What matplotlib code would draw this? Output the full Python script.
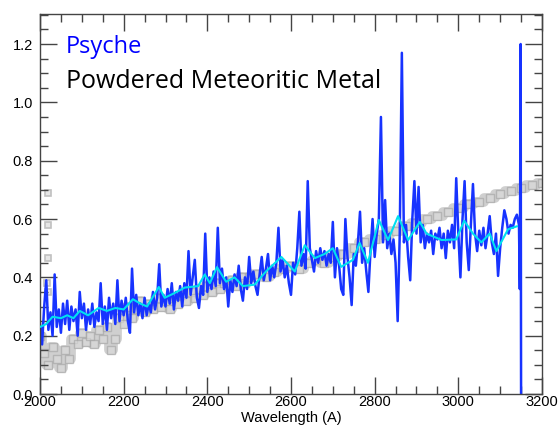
import numpy as np
import matplotlib
matplotlib.use("Agg")
import matplotlib.pyplot as plt
from matplotlib.ticker import MultipleLocator

# Psyche spectrum (blue), sampled every 5 A from 2000 to 3145, then the edge spike
psyche_y = [
    0.24, 0.17, 0.30, 0.39, 0.22, 0.28, 0.20, 0.41, 0.23, 0.29,
    0.21, 0.31, 0.24, 0.32, 0.22, 0.30, 0.25, 0.29, 0.20, 0.35,
    0.26, 0.31, 0.22, 0.29, 0.24, 0.31, 0.23, 0.28, 0.25, 0.38,
    0.24, 0.30, 0.22, 0.33, 0.26, 0.31, 0.24, 0.39, 0.25, 0.32,
    0.27, 0.33, 0.25, 0.21, 0.43, 0.28, 0.34, 0.27, 0.31, 0.26,
    0.33, 0.27, 0.31, 0.28, 0.35, 0.29, 0.33, 0.445, 0.30, 0.34,
    0.30, 0.36, 0.31, 0.38, 0.29, 0.35, 0.32, 0.37, 0.30, 0.38,
    0.33, 0.49, 0.34, 0.40, 0.46, 0.33, 0.295, 0.37, 0.34, 0.55,
    0.35, 0.40, 0.36, 0.42, 0.37, 0.57, 0.38, 0.43, 0.36, 0.40,
    0.30, 0.39, 0.35, 0.41, 0.37, 0.44, 0.36, 0.32, 0.40, 0.36,
    0.47, 0.38, 0.42, 0.37, 0.34, 0.41, 0.47, 0.39, 0.43, 0.48,
    0.39, 0.44, 0.40, 0.45, 0.57, 0.42, 0.46, 0.40, 0.44, 0.38,
    0.34, 0.45, 0.41, 0.50, 0.625, 0.44, 0.48, 0.43, 0.73, 0.50,
    0.46, 0.42, 0.49, 0.45, 0.50, 0.46, 0.49, 0.44, 0.48, 0.45,
    0.59, 0.40, 0.50, 0.44, 0.36, 0.34, 0.60, 0.47, 0.40, 0.305,
    0.48, 0.44, 0.52, 0.625, 0.45, 0.50, 0.42, 0.35, 0.49, 0.60,
    0.47, 0.55, 0.60, 0.95, 0.52, 0.665, 0.50, 0.55, 0.48, 0.53,
    0.45, 0.25, 0.55, 1.17, 0.52, 0.58, 0.47, 0.39, 0.60, 0.73,
    0.55, 0.71, 0.52, 0.58, 0.50, 0.55, 0.52, 0.56, 0.48, 0.55,
    0.53, 0.57, 0.50, 0.55, 0.466, 0.56, 0.52, 0.58, 0.50, 0.74,
    0.55, 0.40, 0.60, 0.73, 0.52, 0.425, 0.58, 0.72, 0.55, 0.49,
    0.56, 0.51, 0.57, 0.50, 0.55, 0.61, 0.52, 0.48, 0.55, 0.405,
    0.50, 0.57, 0.63, 0.60, 0.55, 0.58, 0.57, 0.60, 0.615, 0.58,
]
psyche_end_x = [3147, 3149, 3150]
psyche_end_y = [0.36, 1.20, 0.0]

# smoothed Psyche (cyan)
smooth_x = [2000, 2015, 2030, 2050, 2065, 2080, 2095, 2115, 2140, 2160,
            2180, 2200, 2222, 2240, 2256, 2284, 2298, 2320, 2346, 2378,
            2394, 2406, 2423, 2445, 2465, 2485, 2513, 2540, 2577, 2609,
            2633, 2657, 2680, 2700, 2720, 2748, 2764, 2784, 2810, 2832,
            2856, 2880, 2908, 2924, 2960, 2995, 3014, 3035, 3055, 3075,
            3091, 3119, 3140]
smooth_y = [0.23, 0.24, 0.265, 0.26, 0.27, 0.26, 0.285, 0.27, 0.295, 0.285,
            0.295, 0.29, 0.325, 0.31, 0.30, 0.367, 0.33, 0.345, 0.365, 0.37,
            0.41, 0.38, 0.435, 0.385, 0.40, 0.37, 0.375, 0.42, 0.47, 0.42,
            0.51, 0.466, 0.48, 0.50, 0.436, 0.46, 0.518, 0.45, 0.597, 0.528,
            0.61, 0.528, 0.59, 0.55, 0.528, 0.53, 0.594, 0.55, 0.52, 0.55,
            0.49, 0.565, 0.575]

# powdered meteoritic metal (gray)
metal_x = [2000, 2010, 2020, 2030, 2040, 2050, 2060, 2070, 2080, 2090,
           2100, 2110, 2120, 2130, 2140, 2150, 2160, 2170, 2180, 2190,
           2200, 2210, 2220, 2230, 2240, 2250, 2260, 2270, 2280, 2290,
           2300, 2310, 2320, 2330, 2340, 2350, 2360, 2370, 2380, 2390,
           2400, 2410, 2420, 2430, 2440, 2450, 2460, 2470, 2480, 2490,
           2500, 2520, 2540, 2560, 2580, 2600, 2620, 2640, 2660, 2680,
           2700, 2725, 2750, 2775, 2800, 2825, 2850, 2875, 2900, 2925,
           2950, 2975, 3000, 3025, 3050, 3075, 3100, 3125, 3150, 3175, 3200]
metal_y = [0.20, 0.14, 0.10, 0.16, 0.12, 0.09, 0.15, 0.12, 0.19, 0.17,
           0.21, 0.18, 0.20, 0.17, 0.22, 0.19, 0.23, 0.15, 0.19, 0.26,
           0.24, 0.30, 0.26, 0.29, 0.32, 0.28, 0.31, 0.29, 0.33, 0.30,
           0.32, 0.29, 0.33, 0.31, 0.34, 0.32, 0.35, 0.33, 0.36, 0.34,
           0.37, 0.35, 0.38, 0.36, 0.38, 0.37, 0.39, 0.37, 0.40, 0.38,
           0.40, 0.41, 0.40, 0.42, 0.43, 0.44, 0.43, 0.45, 0.46, 0.45,
           0.47, 0.48, 0.50, 0.52, 0.53, 0.545, 0.56, 0.575, 0.585, 0.60,
           0.61, 0.625, 0.637, 0.65, 0.66, 0.672, 0.685, 0.695, 0.706, 0.715, 0.723]
metal_edge_x = [2018, 2018, 2019, 2017, 2018]
metal_edge_y = [0.69, 0.58, 0.465, 0.38, 0.35]

psyche_x = list(np.arange(2000, 3150, 5)[:len(psyche_y)]) + psyche_end_x
psyche_y = psyche_y + psyche_end_y

plt.rcParams["font.family"] = ["Liberation Sans", "DejaVu Sans"]

fig = plt.figure(figsize=(5.58, 4.30), dpi=100)
ax = fig.add_axes([0.0717, 0.0837, 0.8996, 0.8837])

# gray spectrum: thick translucent steps with square markers
ax.plot(metal_x, metal_y, color="#a8a8a8", lw=7, alpha=0.55, drawstyle="steps-mid",
        solid_capstyle="butt", zorder=1)
ax.plot(metal_x, metal_y, ls="none", marker="s", ms=6, mfc="#dcdcdc",
        mec="#a0a0a0", mew=1.0, alpha=0.6, zorder=1)
ax.plot(metal_edge_x, metal_edge_y, ls="none", marker="s", ms=5, mfc="#e6e6e6",
        mec="#c0c0c0", mew=1.2, zorder=1)
ax.plot(psyche_x, psyche_y, color="#1733ff", lw=1.8, zorder=2)
ax.plot(smooth_x, smooth_y, color="#00e0f0", lw=1.5, zorder=3)

ax.set_xlim(2000, 3200)
ax.set_ylim(0, 1.303)
ax.xaxis.set_major_locator(MultipleLocator(200))
ax.xaxis.set_minor_locator(MultipleLocator(50))
ax.yaxis.set_major_locator(MultipleLocator(0.2))
ax.yaxis.set_minor_locator(MultipleLocator(0.05))
ax.yaxis.set_major_formatter(matplotlib.ticker.FormatStrFormatter("%.1f"))
ax.tick_params(which="both", direction="in", top=True, right=True,
               color="#444444", width=1, labelsize=10.5)
ax.tick_params(which="major", length=12.5)
ax.tick_params(which="minor", length=6)
ax.tick_params(axis="x", which="major", pad=1)
ax.tick_params(axis="y", which="major", pad=5)
for s in ax.spines.values():
    s.set_color("#444444")
    s.set_linewidth(1)

ax.set_xlabel("Wavelength (A)", fontsize=10.5, labelpad=1)

ax.text(2062, 1.169, "Psyche", color="#0000ff", fontsize=17,
        family=["Open Sans", "DejaVu Sans"], va="baseline")
ax.text(2062, 1.051, "Powdered Meteoritic Metal", color="black", fontsize=18,
        family=["Open Sans", "DejaVu Sans"], va="baseline")

fig.savefig("out.png", dpi=100)
